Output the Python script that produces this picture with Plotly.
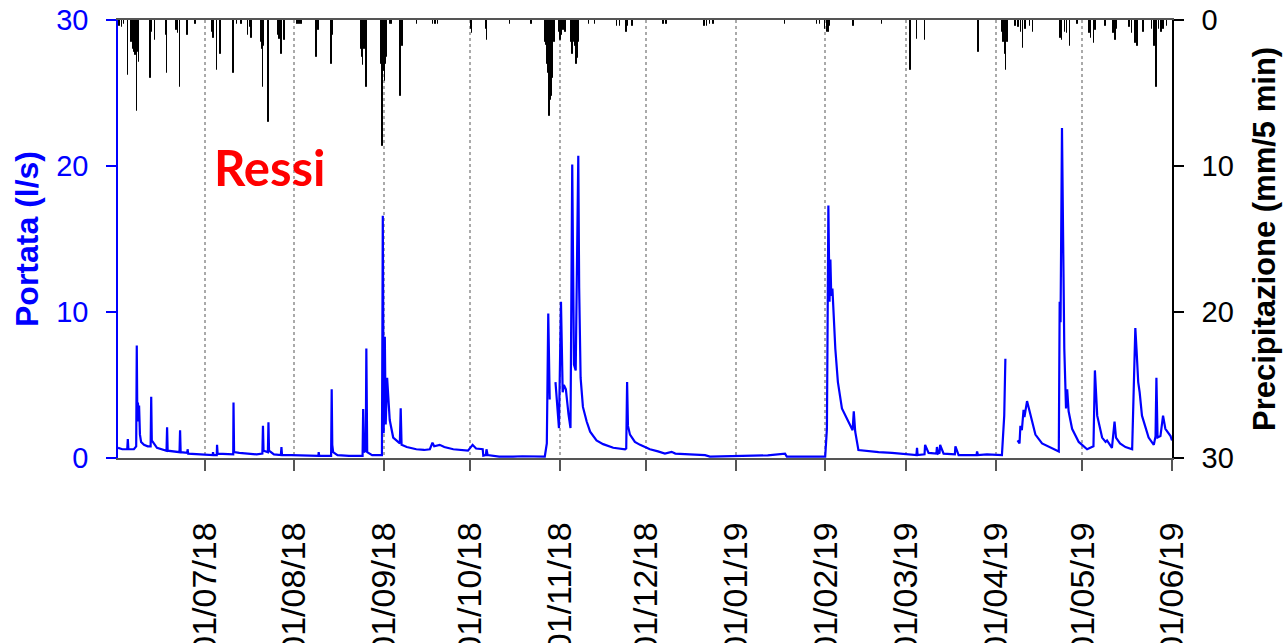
import pandas as pd
import plotly.graph_objects as go

START = pd.Timestamp("2018-06-01")
END = pd.Timestamp("2019-06-01")

# Discharge (l/s): time in days since 2018-06-01, value; None = data gap
flow_day = [
    0.0, 1.5, 3.2, 3.4, 3.6, 5.5, 6.3, 6.5, 6.7, 6.9, 7.1, 7.3, 7.6, 8.0, 9.0, 10.3,
    11.3, 11.5, 11.7, 12.4, 13.5, 16.8, 17.0, 17.2, 21.3, 21.5, 21.7, 24.0, 24.1, 24.3,
    28, 30, 32.8, 32.9, 33.1, 34.2, 34.3, 34.5, 38, 39.9, 40.0, 40.2, 42, 44, 46, 48,
    50.0, 50.2, 50.4, 51.9, 52.1, 52.3, 54, 56.4, 56.6, 56.8, 60, 65, 69.4, 69.5, 69.7,
    73.8, 74.0, 74.2, 74.5, 76, 80, 84.7, 84.9, 85.2, 85.8, 86.0, 86.3, 88, 91.4, 91.7,
    92.0, 92.4, 92.7, 93.2, 94.1, 95.3, 97.6, 97.9, 98.2, 100, 103.3, 106, 108.0, 108.9,
    109.5, 111.4, 113, 116.1, 121.2, 122.8, 124, 126.3, 126.5, 127.4, 127.6, 128, 132,
    136.8, 140, 147.8, 148.5, 149.0, 149.5, 150.5, 151.5, 152.2, 152.7, 153.4, 154.0,
    154.4, 155.1, 156.0, 156.7, 157.3, 157.9, 158.5, 159.4, 159.7, 160.2, 161, 162.3,
    163.5, 165.7, 168, 171.5, 175.6, 176.0, 176.3, 176.6, 177.3, 179, 180.8, 184.2, 187,
    189.4, 191.7, 193, 198, 203.3, 205.0, 210, 213.7, 220, 225, 231.0, 231.6, 238, 244.9,
    245.5, 246.0, 246.4, 246.7, 247.0, 247.4, 248.4, 249.3, 250.7, 253.0, 254.4, 254.8,
    255.3, 256.4, 260, 263.4, 268, 272.6, 276.5, 276.7, 276.9, 279.3, 279.5, 280.7,
    283.4, 283.6, 284.0, 284.5, 284.7, 285.9, 289.8, 290.0, 291.1, 297.3, 297.5, 297.8,
    300.9, 306.1, 306.9, 307.3, 309.0, 311.5, 312.2, 312.5, 313.0, 313.6, 313.9, 314.8,
    315.9, 317.7, 320.0, 323.5, 325.8, 326.1, 326.4, 326.9, 327.3, 327.7, 328.3, 328.7,
    329.2, 330.4, 332.7, 335.6, 336.7, 337.8, 338.3, 339.1, 340.8, 342.0, 342.5, 344.2,
    345.1, 345.6, 347, 348.9, 351.2, 352.3, 352.7, 353.3, 353.8, 354.6, 356.9, 358.7,
    359.3, 359.6, 360.0, 361.0, 361.9, 362.7, 364.5, 365.0,
]
flow_value = [
    0.7, 0.6, 0.6, 1.3, 0.6, 0.6, 0.8, 7.7, 2.5, 3.8, 3.0, 3.6, 1.6, 1.1, 0.9, 0.8,
    0.8, 4.2, 1.2, 1.0, 0.7, 0.5, 2.1, 0.5, 0.4, 1.9, 0.4, 0.35, 0.6, 0.3,
    0.25, 0.2, 0.2, 0.4, 0.2, 0.2, 0.9, 0.3, 0.25, 0.25, 3.8, 0.4, 0.35, 0.3, 0.3, 0.25,
    0.3, 2.2, 0.5, 0.4, 2.45, 0.5, 0.25, 0.2, 0.75, 0.2, 0.2, 0.15, 0.15, 0.4, 0.15,
    0.15, 4.7, 0.9, 0.4, 0.2, 0.15, 0.15, 3.35, 0.4, 0.5, 7.5, 0.4, 0.2, 0.2, 16.6,
    1.7, 8.3, 2.3, 5.5, 2.6, 1.4, 1.0, 3.4, 0.9, 0.75, 0.6, 0.55, 0.6, 1.05,
    0.8, 0.9, 0.75, 0.6, 0.5, 0.9, 0.65, 0.6, 0.16, 0.2, 0.6, 0.2, 0.1,
    0.1, 0.12, 0.1, 1.0, 9.9, 4.0, None, 5.2, 3.0, 2.05, 10.7, 4.5,
    5.0, 4.7, 3.0, 2.05, 20.1, 6.4, 6.0, 20.7, 11.7, 5.5, 3.5, 2.5,
    1.8, 1.2, 0.95, 0.7, 0.6, 0.65, 5.2, 2.2, 1.6, 1.1, 0.9, 0.6, 0.45,
    0.3, 0.42, 0.3, 0.25, 0.2, 0.1, 0.12, 0.1, 0.15, 0.18, 0.3, 0.1, 0.1, 0.1,
    2.0, 17.3, 10.7, 13.6, 11.1, 11.6, 7.5, 5.2, 3.4, 2.4, 1.9, 3.2,
    1.8, 0.55, 0.45, 0.4, 0.35, 0.25, 0.2, 0.7, 0.2, 0.25, 0.9, 0.35,
    0.3, 0.75, 0.3, 0.35, 0.9, 0.3, 0.25, 0.8, 0.2, 0.2, 0.45, 0.2,
    0.25, 0.2, 2.9, 6.8, None, 1.2, 1.0, 2.2, 1.9, 3.3, 2.8, 3.9,
    3.0, 1.6, 1.0, 0.7, 0.45, 10.7, 9.3, 22.6, 15.7, 7.5, 3.4, 4.7,
    3.2, 2.0, 1.1, 0.6, 0.7, 0.8, 6.0, 2.9, 1.4, 1.1, 1.2, 0.7,
    2.5, 1.4, 1.0, 0.75, 0.6, 8.9, 7.5, 5.2, 4.5, 2.9, 1.4, 0.9,
    1.5, 5.5, 1.4, 1.5, 2.9, 2.0, 1.5, 1.2,
]

# Precipitation (mm/5 min): time in days since 2018-06-01, depth
rain_day = [
    0.5, 1.3, 2.0, 3.4, 4.6, 5.1, 5.7, 6.1, 6.3, 6.5, 6.9, 7.2, 11.3, 11.7, 12.9, 16.7,
    17.0, 20.2, 20.7, 21.5, 24.0, 26.9, 32.5, 33.1, 34.3, 35.5, 40.0, 41.2, 42.7, 45.0,
    45.8, 46.2, 49.6, 50.0, 50.2, 50.5, 52.1, 55.4, 56.0, 56.6, 57.7, 62.1, 62.9, 63.5,
    68.7, 69.5, 73.7, 74.0, 74.5, 84.3, 84.6, 84.9, 85.4, 86.0,
    91.0, 91.2, 91.6, 91.9, 92.4, 92.7, 93.2, 94.1, 94.7, 97.9, 98.5, 103.6, 109.1,
    110.0, 110.8, 122.2, 122.6, 127.4, 127.7, 135.7, 143.2, 148.1, 148.4, 148.8, 149.0,
    149.3, 149.5, 149.9, 150.1, 150.5, 150.7, 151.1, 151.4, 152.8, 153.3, 153.6, 154.2,
    154.9, 157.1, 157.4, 157.9, 158.5, 158.8, 159.2, 159.6, 163.2, 165.1, 172.9, 173.8,
    176.1, 176.7, 178.2,
    188.9, 190.0, 203.1, 203.9, 205.0, 206.2, 231.0, 242.0, 243.1, 244.9, 245.5, 246.0,
    246.6, 254.7, 264.5,
    274.4, 276.7, 279.5, 298.0, 306.1, 306.7, 307.3, 307.6, 308.1, 310.8, 311.9, 312.8,
    313.4, 314.2, 315.9, 316.9, 326.4, 326.9, 327.9, 328.7, 329.6, 332.2, 336.4, 337.0,
    337.9, 338.5, 341.9, 344.8, 345.4, 346.0, 350.3, 351.2, 352.3, 353.1, 355.2, 358.1,
    358.7, 359.0, 359.6, 360.4, 361.3, 362.1, 363.3,
]
rain_mm = [
    0.4, 0.5, 0.3, 3.8, 1.5, 2.0, 2.2, 2.4, 2.0, 6.2, 2.2, 2.9, 4.0, 0.8, 1.4, 1.0,
    3.6, 0.7, 0.9, 4.6, 1.0, 0.3, 0.8, 1.2, 3.4, 2.3, 3.6, 0.3, 0.3, 1.0,
    0.5, 1.2, 1.5, 2.0, 4.6, 1.8, 7.0, 1.0, 1.3, 2.3, 1.4, 0.3, 0.3, 0.3,
    2.5, 0.7, 2.0, 3.0, 1.0, 2.0, 2.5, 3.1, 2.0, 4.6,
    2.5, 3.0, 8.6, 3.5, 4.2, 3.0, 2.5, 0.3, 0.3, 5.2, 1.8, 0.3, 0.3,
    0.3, 0.3, 0.6, 0.9, 0.6, 1.4, 0.3, 0.3, 1.5, 1.7, 3.0, 3.6,
    5.0, 6.6, 5.5, 5.2, 4.0, 2.9, 1.5, 1.0, 0.8, 1.4, 1.0, 0.7,
    0.8, 1.5, 2.3, 1.5, 1.8, 3.0, 2.6, 1.5, 0.3, 0.3, 0.4, 0.4,
    0.8, 0.4, 0.4,
    0.3, 0.3, 0.4, 0.4, 0.3, 0.3, 0.3, 0.3, 0.3, 0.6, 0.8, 0.8,
    0.4, 0.4, 0.3,
    3.4, 1.3, 1.4, 2.2, 0.8, 1.5, 2.3, 3.4, 1.5, 0.4, 0.5, 0.8,
    1.9, 0.6, 0.4, 0.8, 1.2, 1.4, 0.8, 0.9, 1.8, 0.3, 0.9, 1.2,
    1.6, 0.7, 0.4, 0.9, 1.4, 0.6, 0.5, 0.9, 1.6, 1.8, 0.8, 0.6,
    1.5, 1.8, 4.6, 0.6, 0.8, 0.6, 0.4,
]

month_ticks = pd.date_range("2018-07-01", "2019-06-01", freq="MS")

flow_t = START + pd.to_timedelta(flow_day, unit="D")
rain_t = START + pd.to_timedelta(rain_day, unit="D")

FONT = "Liberation Sans, Arial, sans-serif"
BLUE = "#0000ff"

fig = go.Figure()
fig.add_trace(go.Scatter(
    x=flow_t, y=flow_value, mode="lines", connectgaps=False,
    line=dict(color=BLUE, width=2.2), yaxis="y", hoverinfo="x+y",
))
fig.add_trace(go.Bar(
    x=rain_t, y=rain_mm, yaxis="y2", width=0.15 * 86400000,
    marker=dict(color="black", line=dict(color="black", width=1)),
))

fig.update_layout(
    width=1285, height=643,
    margin=dict(l=118, r=113, t=20, b=185, autoexpand=False),
    plot_bgcolor="white", paper_bgcolor="white",
    showlegend=False, bargap=0,
    font=dict(family=FONT),
    xaxis=dict(
        type="date", range=[START, END],
        tickvals=month_ticks, tickformat="%d/%m/%y", tickangle=-90,
        ticks="outside", ticklen=11, tickwidth=1.5, tickcolor="#555555",
        showline=True, linecolor="#555555", linewidth=1.5, mirror=True,
        showgrid=True, gridcolor="#aaaaaa", griddash="dot", gridwidth=1.5,
        tickfont=dict(family=FONT, size=34, color="black"),
        ticklabelstandoff=38, automargin=False, zeroline=False,
    ),
    yaxis=dict(
        range=[0, 30], tickvals=[0, 10, 20, 30],
        ticks="outside", ticklen=10, tickwidth=1.5, tickcolor=BLUE,
        showline=True, linecolor=BLUE, linewidth=1.5,
        showgrid=False, zeroline=False,
        tickfont=dict(family=FONT, size=29, color=BLUE),
        ticklabelstandoff=12, automargin=False,
    ),
    yaxis2=dict(
        overlaying="y", side="right", range=[30, 0], tickvals=[0, 10, 20, 30],
        ticks="outside", ticklen=10, tickwidth=1.5, tickcolor="black",
        showline=True, linecolor="black", linewidth=1.5,
        showgrid=False, zeroline=False,
        tickfont=dict(family=FONT, size=29, color="black"),
        ticklabelstandoff=12, automargin=False,
    ),
    annotations=[
        dict(text="<b>Portata (l/s)</b>", xref="paper", yref="paper",
             x=(27 - 118) / 1054, y=0.5, xanchor="center", yanchor="middle",
             textangle=-90, showarrow=False,
             font=dict(family=FONT, size=32, color=BLUE)),
        dict(text="<b>Precipitazione (mm/5 min)</b>", xref="paper", yref="paper",
             x=(1264 - 118) / 1054, y=0.5, xanchor="center", yanchor="middle",
             textangle=-90, showarrow=False,
             font=dict(family=FONT, size=31, color="black")),
        dict(text="<b>Ressi</b>", xref="paper", yref="paper",
             x=(270 - 118) / 1054, y=(458 - 167) / 438, xanchor="center", yanchor="middle",
             showarrow=False,
             font=dict(family="Lato, Liberation Sans, sans-serif", size=49, color="red")),
    ],
)

fig.write_html("out.html")
